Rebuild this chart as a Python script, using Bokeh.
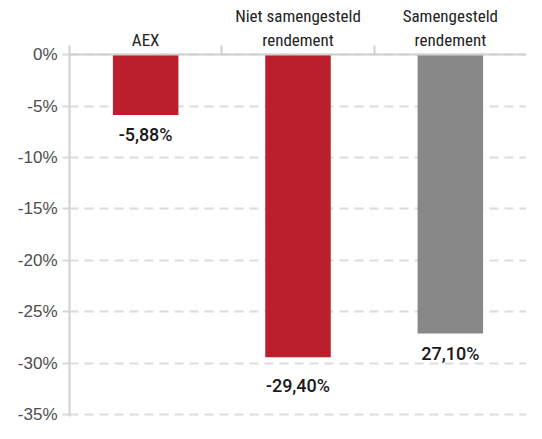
from bokeh.plotting import figure
from bokeh.models import Range1d, FixedTicker, PrintfTickFormatter, Span, ColumnDataSource
from bokeh.core.properties import value
from bokeh.embed import file_html
from bokeh.resources import INLINE

# ---- data ----
categories = ["AEX", "Niet samengesteld\nrendement", "Samengesteld\nrendement"]
returns = [-5.88, -29.40, -27.10]
value_labels = ["-5,88%", "-29,40%", "27,10%"]
y_ticks = [0, -5, -10, -15, -20, -25, -30, -35]

# ---- styles ----
bar_colors = ["#BB1F2D", "#BB1F2D", "#888888"]
label_gaps = [9, 18, 9]

n = len(categories)
xs = [i + 0.5 for i in range(n)]
src = ColumnDataSource(dict(x=xs, v=returns, lab=value_labels, col=bar_colors, gap=label_gaps))

p = figure(width=526, height=423, x_range=Range1d(0, n), y_range=Range1d(-35.15, 0.875),
           output_backend="svg", toolbar_location=None, x_axis_location="above",
           min_border_left=69, min_border_right=0, min_border_top=45, min_border_bottom=7)
p.outline_line_color = None
p.background_fill_color = "white"
p.border_fill_color = "white"

# category axis on top
xa = p.xaxis[0]
xa.ticker = FixedTicker(ticks=xs, minor_ticks=[i for i in range(1, n)])
xa.major_label_overrides = {x: c for x, c in zip(xs, categories)}
xa.axis_line_color = None
xa.major_tick_in = 0
xa.major_tick_out = 0
xa.major_tick_line_color = None
xa.minor_tick_in = 9
xa.minor_tick_out = 0
xa.minor_tick_line_color = "#d0d0d0"
xa.minor_tick_line_width = 2
xa.major_label_text_font = "'Roboto Condensed', Roboto"
xa.major_label_text_font_size = "17px"
xa.major_label_text_color = "#222222"
xa.major_label_standoff = -4

# y axis
ya = p.yaxis[0]
ya.ticker = FixedTicker(ticks=y_ticks)
ya.formatter = PrintfTickFormatter(format="%d%%")
ya.axis_line_color = "#d0d0d0"
ya.axis_line_width = 2
ya.major_tick_in = 0
ya.major_tick_out = 7
ya.major_tick_line_color = "#d9d9d9"
ya.major_tick_line_width = 2
ya.minor_tick_line_color = None
ya.major_label_text_font = "Liberation Sans"
ya.major_label_text_font_size = "17px"
ya.major_label_text_color = "#4d4d4d"
ya.major_label_standoff = 5

p.xgrid.visible = False
p.ygrid.ticker = FixedTicker(ticks=y_ticks)
p.ygrid.grid_line_color = "#dcdcdc"
p.ygrid.grid_line_width = 2
p.ygrid.grid_line_dash = "9 6"

p.add_layout(Span(location=0, dimension="width", line_color="#d0d0d0", line_width=2))

p.vbar(x="x", top=0, bottom="v", width=0.43, fill_color="col", line_color=None, source=src)

p.text(x="x", y="v", text="lab", y_offset="gap", text_align="center", text_baseline="top",
       text_font=value("'Roboto Medium', Roboto"), text_font_size="18px",
       text_color="#1a1a1a", source=src)

open("out.html", "w").write(file_html(p, INLINE))
